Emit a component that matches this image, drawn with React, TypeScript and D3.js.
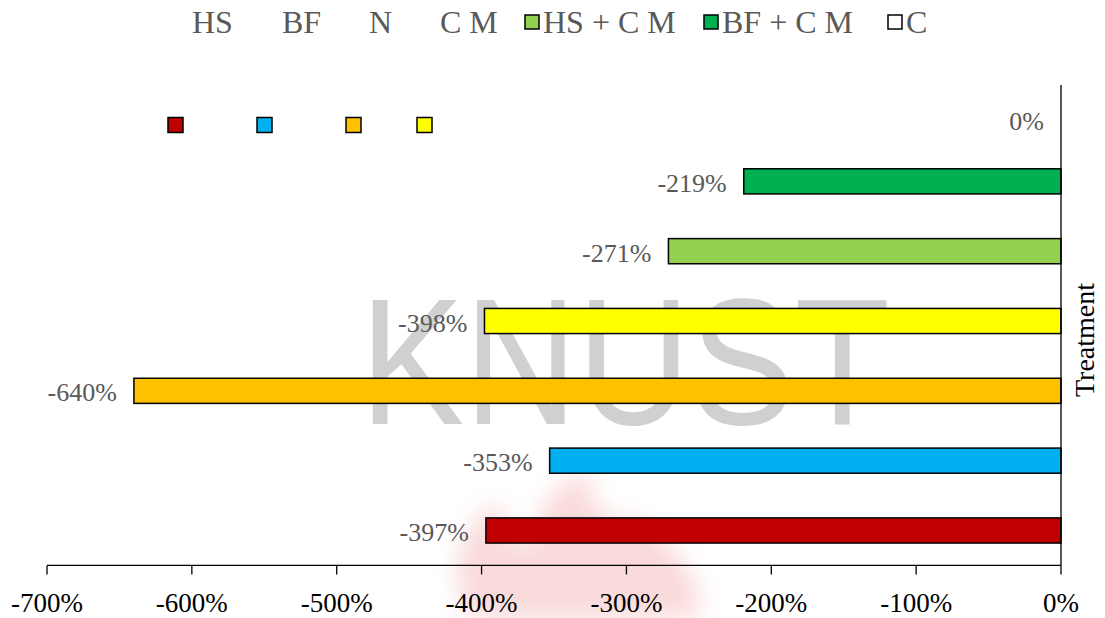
import React from 'react';
import * as d3 from 'd3';

const treatments = ['C', 'BF + C M', 'HS + C M', 'C M', 'N', 'BF', 'HS'];
const changes = [0, -219, -271, -398, -640, -353, -397];
const colors = ['#FFFFFF', '#00B050', '#92D050', '#FFFF00', '#FFC000', '#00B0F0', '#C00000'];

const legendOrder = ['HS', 'BF', 'N', 'C M', 'HS + C M', 'BF + C M', 'C'];
const xTicks = [-700, -600, -500, -400, -300, -200, -100, 0];

const width = 1105;
const height = 618;
const margin = { top: 76.6, right: 44, bottom: 52.6, left: 47 };

// Legend text starts and where Excel left the first four markers
const legendTextX = [192, 282, 369, 440, 543, 722, 906];
const strayMarkerX = [168, 257, 346, 417];

const serif = '"Liberation Serif", "Times New Roman", serif';

export default function App() {
    const x = d3.scaleLinear([-700, 0], [margin.left, width - margin.right]);
    const y = d3
        .scaleBand<string>()
        .domain(treatments)
        .range([margin.top, height - margin.bottom])
        .paddingInner(0.64)
        .paddingOuter(0.32);

    const axisY = height - margin.bottom;
    const x0 = x(0);
    const colorOf = (name: string) => colors[treatments.indexOf(name)];

    return (
        <svg
            width={width}
            height={height}
            style={{ position: 'absolute', left: 0, top: 0 }}
            fontFamily={serif}
        >
            <rect width={width} height={height} fill="#fff" />

            {/* faint watermark */}
            <defs>
                <filter id="blur" x="-20%" y="-20%" width="140%" height="140%">
                    <feGaussianBlur stdDeviation="12" />
                </filter>
            </defs>
            <g opacity={0.18} filter="url(#blur)">
                <path
                    d="M470,618 C440,560 470,520 500,500 C500,540 520,550 540,540 C530,510 560,480 590,470 C580,510 620,530 640,520 C660,540 700,560 700,618 Z"
                    fill="#e03030"
                />
            </g>
            <text
                x={360}
                y={424}
                fontFamily='"Liberation Sans", Arial, sans-serif'
                fontSize={180}
                textLength={530}
                lengthAdjust="spacingAndGlyphs"
                fill="#d0d0d0"
            >
                KNUST
            </text>

            {/* legend */}
            <g fontSize={32} fill="#595959">
                {legendOrder.map((name, i) => (
                    <g key={name}>
                        {i >= 4 && (
                            <rect
                                x={legendTextX[i] - 18}
                                y={15}
                                width={14}
                                height={14}
                                fill={colorOf(name)}
                                stroke="#000"
                                strokeWidth={1.5}
                            />
                        )}
                        <text x={legendTextX[i]} y={33}>
                            {name}
                        </text>
                    </g>
                ))}
                {strayMarkerX.map((mx, i) => (
                    <rect
                        key={legendOrder[i]}
                        x={mx}
                        y={117.5}
                        width={15}
                        height={15}
                        fill={colorOf(legendOrder[i])}
                        stroke="#000"
                        strokeWidth={1.5}
                    />
                ))}
            </g>

            {/* bars */}
            {treatments.map((t, i) => (
                <rect
                    key={t}
                    x={x(changes[i])}
                    y={y(t)}
                    width={x0 - x(changes[i])}
                    height={y.bandwidth()}
                    fill={colors[i]}
                    stroke="#000"
                    strokeWidth={1.5}
                />
            ))}

            {/* data labels */}
            <g fontSize={26} fill="#595959" textAnchor="end">
                {treatments.map((t, i) => (
                    <text
                        key={t}
                        x={x(changes[i]) - 17}
                        y={y(t)! + y.bandwidth() / 2 + (changes[i] === 0 ? 10 : 2)}
                        dominantBaseline="central"
                    >
                        {changes[i]}%
                    </text>
                ))}
            </g>

            {/* vertical axis at 0 */}
            <line x1={x0} x2={x0} y1={85} y2={axisY} stroke="#000" strokeWidth={1.3} />
            <text
                transform={`translate(${x0 + 33},340) rotate(-90)`}
                textAnchor="middle"
                fontSize={28}
                fill="#000"
            >
                Treatment
            </text>

            {/* x axis */}
            <line x1={x(-700)} x2={x0} y1={axisY} y2={axisY} stroke="#000" strokeWidth={1.3} />
            {xTicks.map((v) => (
                <g key={v}>
                    <line x1={x(v)} x2={x(v)} y1={axisY} y2={axisY + 9} stroke="#000" strokeWidth={1.3} />
                    <text x={x(v)} y={axisY + 47} textAnchor="middle" fontSize={27} fill="#000">
                        {v}%
                    </text>
                </g>
            ))}
        </svg>
    );
}
